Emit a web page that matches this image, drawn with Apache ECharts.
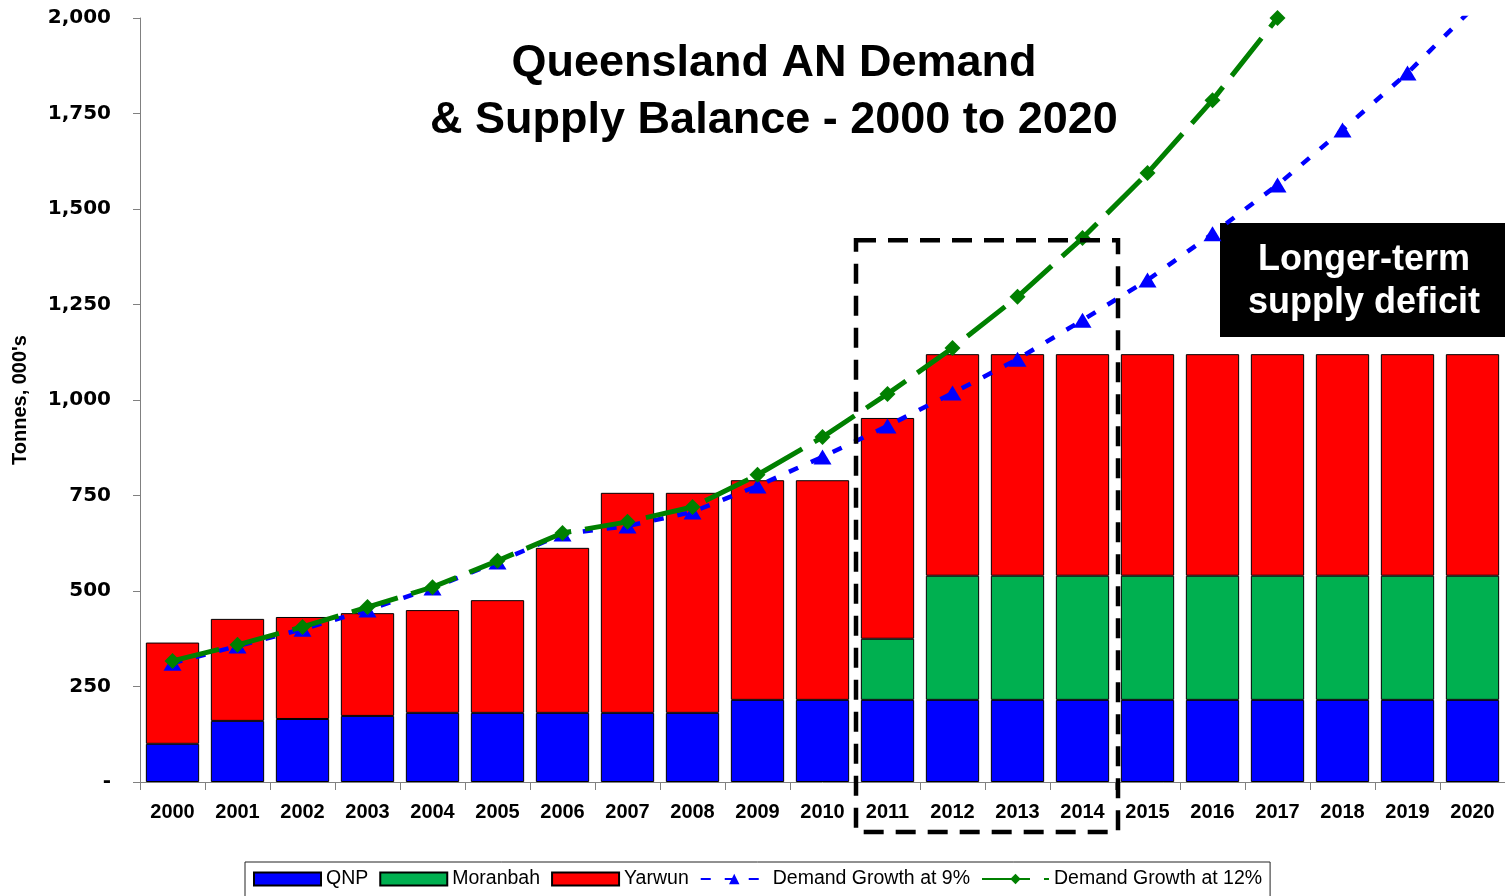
<!DOCTYPE html>
<html>
<head>
<meta charset="utf-8">
<title>Queensland AN Demand & Supply Balance</title>
<script src="https://cdn.jsdelivr.net/npm/echarts@6/dist/echarts.min.js"></script>
<style>
  html, body { margin: 0; padding: 0; background: #fff; }
  #chart { width: 1505px; height: 896px; }
</style>
</head>
<body>
<div id="chart"></div>
<script>
// values, tonnes 000's
const years = ['2000', '2001', '2002', '2003', '2004', '2005', '2006', '2007', '2008', '2009', '2010',
  '2011', '2012', '2013', '2014', '2015', '2016', '2017', '2018', '2019', '2020']
const qnp = [100, 160, 165, 173, 181, 181, 181, 181, 181, 215, 215,
  215, 215, 215, 215, 215, 215, 215, 215, 215, 215]
const moranbah = [null, null, null, null, null, null, null, null, null, null, null,
  160, 325, 325, 325, 325, 325, 325, 325, 325, 325]
const yarwun = [265, 267, 267, 269, 269, 295, 432, 576, 576, 575, 575,
  578, 580, 580, 580, 580, 580, 580, 580, 580, 580]
const demand9 = [311, 356, 400, 450, 508, 576, 649, 670, 707, 775, 851,
  932, 1018, 1107, 1209, 1314, 1435, 1563, 1707, 1856, 2025]
const demand12 = [317, 359, 406, 458, 510, 579, 652, 681, 720, 804, 903,
  1016, 1136, 1270, 1424, 1594, 1785, 2000, 2240, 2510, 2810]
const yTicks = [0, 250, 500, 750, 1000, 1250, 1500, 1750, 2000]

const chart = echarts.init(document.getElementById('chart'))

const barStyle = (color) => ({
  color: color,
  borderColor: '#000',
  borderWidth: 1
})

chart.setOption({
  backgroundColor: '#fff',
  animation: false,
  title: {
    text: 'Queensland AN Demand\n& Supply Balance - 2000 to 2020',
    left: 774,
    top: 35,
    padding: 0,
    textAlign: 'center',
    textStyle: {
      fontFamily: 'Liberation Sans, Arial, sans-serif',
      fontWeight: 'bold',
      fontSize: 45,
      lineHeight: 57,
      color: '#000'
    }
  },
  legend: {
    left: 245,
    top: 862,
    padding: [7, 8, 10, 8],
    borderColor: '#222',
    borderWidth: 1,
    itemWidth: 67,
    itemHeight: 13,
    itemGap: 11,
    textStyle: {
      fontFamily: 'Liberation Sans, Arial, sans-serif',
      fontSize: 19.5,
      color: '#000'
    },
    data: [
      { name: 'QNP', icon: 'rect' },
      { name: 'Moranbah', icon: 'rect' },
      { name: 'Yarwun', icon: 'rect' },
      'Demand Growth at 9%',
      'Demand Growth at 12%'
    ]
  },
  grid: {
    left: 140,
    right: 0,
    top: 18,
    bottom: 114
  },
  xAxis: {
    type: 'category',
    data: years,
    axisLine: { lineStyle: { color: '#808080', width: 1 } },
    axisTick: { show: true, length: 8, lineStyle: { color: '#808080' } },
    axisLabel: {
      margin: 20,
      fontFamily: 'Liberation Sans, Arial, sans-serif',
      fontWeight: 'bold',
      fontSize: 20,
      color: '#000'
    }
  },
  yAxis: {
    type: 'value',
    min: yTicks[0],
    max: yTicks[yTicks.length - 1],
    interval: 250,
    name: "Tonnes, 000's",
    nameLocation: 'middle',
    nameGap: 110,
    nameTextStyle: {
      fontFamily: 'Liberation Sans, Arial, sans-serif',
      fontWeight: 'bold',
      fontSize: 20,
      color: '#000'
    },
    axisLine: { show: true, lineStyle: { color: '#808080', width: 1 } },
    axisTick: { show: true, length: 7, lineStyle: { color: '#808080' } },
    splitLine: { show: false },
    axisLabel: {
      margin: 29,
      fontFamily: 'DejaVu Sans, sans-serif',
      fontWeight: 'bold',
      fontSize: 20,
      color: '#000',
      formatter: (v) => v === 0 ? '-' : v.toLocaleString('en-US')
    }
  },
  series: [
    {
      name: 'QNP',
      type: 'bar',
      stack: 'supply',
      barCategoryGap: '18%',
      itemStyle: barStyle('#0000FF'),
      data: qnp
    },
    {
      name: 'Moranbah',
      type: 'bar',
      stack: 'supply',
      itemStyle: barStyle('#00B050'),
      data: moranbah
    },
    {
      name: 'Yarwun',
      type: 'bar',
      stack: 'supply',
      itemStyle: barStyle('#FF0000'),
      data: yarwun
    },
    {
      name: 'Demand Growth at 9%',
      type: 'line',
      clip: true,
      symbol: 'triangle',
      symbolSize: [18, 15],
      itemStyle: { color: '#0000FF' },
      lineStyle: { color: '#0000FF', width: 4.5, type: [10, 14] },
      z: 5,
      data: demand9
    },
    {
      name: 'Demand Growth at 12%',
      type: 'line',
      clip: true,
      symbol: 'diamond',
      symbolSize: 16,
      itemStyle: { color: '#008000' },
      lineStyle: { color: '#008000', width: 5, type: [48, 14] },
      z: 6,
      data: demand12
    }
  ]
})

// annotation boxes placed from the axes
const cell = chart.convertToPixel({ xAxisIndex: 0 }, '2001') - chart.convertToPixel({ xAxisIndex: 0 }, '2000')
const boxLeft = chart.convertToPixel({ xAxisIndex: 0 }, '2011') - cell / 2 + 1
const boxRight = chart.convertToPixel({ xAxisIndex: 0 }, '2014') + cell / 2 + 3
const boxTop = chart.convertToPixel({ yAxisIndex: 0 }, 1418)
const axisY = chart.convertToPixel({ yAxisIndex: 0 }, 0)

chart.setOption({
  graphic: [
    {
      type: 'rect',
      z: 10,
      shape: { x: boxLeft, y: boxTop, width: boxRight - boxLeft, height: axisY + 50 - boxTop },
      style: { fill: null, stroke: '#000', lineWidth: 4.5, lineDash: [20, 12] }
    },
    {
      type: 'group',
      right: 0,
      top: 223,
      z: 10,
      children: [
        {
          type: 'rect',
          shape: { x: 0, y: 0, width: 285, height: 114 },
          style: { fill: '#000' }
        },
        {
          type: 'text',
          x: 144,
          y: 59,
          style: {
            text: 'Longer-term\nsupply deficit',
            fill: '#fff',
            font: 'bold 36px "Liberation Sans", Arial, sans-serif',
            lineHeight: 43,
            align: 'center',
            verticalAlign: 'middle'
          }
        }
      ]
    }
  ]
})
</script>
</body>
</html>
